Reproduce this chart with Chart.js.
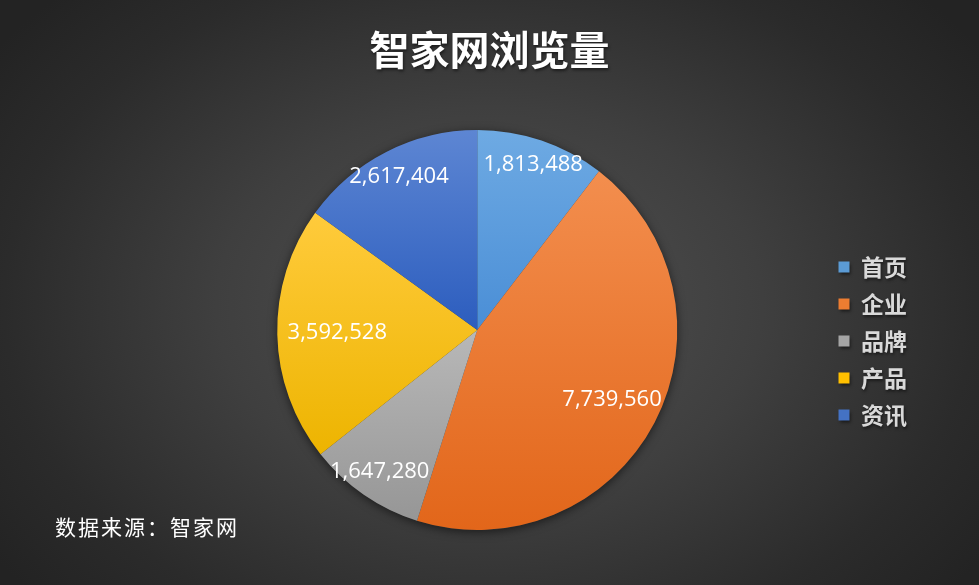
<!DOCTYPE html>
<html>
<head>
<meta charset="utf-8">
<script src="https://cdn.jsdelivr.net/npm/chart.js@4"></script>
<style>
  html, body { margin: 0; padding: 0; background: #262626; }
  #contenedor {
    position: relative;
    width: 979px;
    height: 585px;
    background: radial-gradient(ellipse 62% 75% at 50% 52%, #525252 0%, #3f3f3f 45%, #2b2b2b 80%, #232323 100%);
  }
  #fuente {
    position: absolute;
    left: 55px;
    top: 511px;
    color: #ffffff;
    font: 21px "Noto Sans CJK SC";
    letter-spacing: 2px;
  }
</style>
</head>
<body>
<div id="contenedor">
  <canvas id="grafico" width="979" height="585"></canvas>
  <div id="fuente">数据来源：智家网</div>
</div>
<script>
// datos
const categorias = ["首页", "企业", "品牌", "产品", "资讯"];
const visitas = [1813488, 7739560, 1647280, 3592528, 2617404];

// colores (arriba -> abajo del degradado) y color plano para la leyenda
const coloresArriba = ["#6eaae3", "#f38e4e", "#b8b8b8", "#ffcb3c", "#5d86d3"];
const coloresAbajo = ["#4a8ed6", "#e2661a", "#969696", "#edb400", "#2c5dbe"];
const coloresLeyenda = ["#5b9bd5", "#ed7d31", "#a5a5a5", "#ffc000", "#4472c4"];
// distancia de cada etiqueta al centro (fracción del radio)
const radioEtiqueta = [0.87, 0.76, 0.86, 0.70, 0.86];

const total = visitas.reduce((a, b) => a + b, 0);

// degradado vertical para cada porción según su alto
function degradado(context) {
  const chart = context.chart;
  const area = chart.chartArea;
  const i = context.dataIndex;
  if (!area) return coloresArriba[i];
  const cx = (area.left + area.right) / 2;
  const cy = (area.top + area.bottom) / 2;
  const r = Math.min(area.width, area.height) / 2;
  let acumulado = 0;
  for (let k = 0; k < i; k++) acumulado += visitas[k];
  const a0 = -Math.PI / 2 + (acumulado / total) * Math.PI * 2;
  const a1 = a0 + (visitas[i] / total) * Math.PI * 2;
  let minY = cy, maxY = cy;
  for (let s = 0; s <= 40; s++) {
    const y = cy + Math.sin(a0 + (a1 - a0) * s / 40) * r;
    minY = Math.min(minY, y);
    maxY = Math.max(maxY, y);
  }
  const g = chart.ctx.createLinearGradient(0, minY, 0, maxY);
  g.addColorStop(0, coloresArriba[i]);
  g.addColorStop(1, coloresAbajo[i]);
  return g;
}

// el título va centrado en todo el ancho y la leyenda un poco más abajo
const ajusteLayout = {
  id: "ajusteLayout",
  afterLayout(chart) {
    const t = chart.titleBlock;
    if (t) { t.left = 0; t.right = chart.width; t.width = chart.width; }
    const l = chart.legend;
    if (l) { l.top += 11; l.bottom += 11; }
  }
};

// sombra suave en el título y detrás del pastel
const sombra = {
  id: "sombra",
  beforeDraw(chart) {
    const ctx = chart.ctx;
    ctx.save();
    ctx.shadowColor = "rgba(0,0,0,0.5)";
    ctx.shadowBlur = 3;
    ctx.shadowOffsetX = 1;
    ctx.shadowOffsetY = 2;
  },
  beforeDatasetsDraw(chart) {
    const ctx = chart.ctx;
    ctx.restore();
    const arc = chart.getDatasetMeta(0).data[0];
    if (!arc) return;
    ctx.save();
    ctx.shadowColor = "rgba(0,0,0,0.55)";
    ctx.shadowBlur = 10;
    ctx.shadowOffsetY = 2;
    ctx.fillStyle = "#3a3a3a";
    ctx.beginPath();
    ctx.arc(arc.x, arc.y, arc.outerRadius, 0, Math.PI * 2);
    ctx.fill();
    ctx.restore();
  }
};

// etiquetas con el valor dentro de cada porción
const etiquetas = {
  id: "etiquetas",
  afterDatasetsDraw(chart) {
    const ctx = chart.ctx;
    const meta = chart.getDatasetMeta(0);
    ctx.save();
    ctx.font = '22px "Open Sans"';
    ctx.fillStyle = "#ffffff";
    ctx.textAlign = "center";
    ctx.textBaseline = "middle";
    meta.data.forEach((arc, i) => {
      const medio = (arc.startAngle + arc.endAngle) / 2;
      const r = arc.outerRadius * radioEtiqueta[i];
      const x = arc.x + Math.cos(medio) * r;
      const y = arc.y + Math.sin(medio) * r;
      ctx.fillText(visitas[i].toLocaleString("en-US"), x, y);
    });
    ctx.restore();
  }
};

const chart = new Chart(document.getElementById("grafico"), {
  type: "pie",
  data: {
    labels: categorias,
    datasets: [{
      data: visitas,
      backgroundColor: degradado,
      borderWidth: 0
    }]
  },
  options: {
    responsive: false,
    animation: false,
    devicePixelRatio: 1,
    layout: { padding: { left: 130, right: 62, bottom: 55, top: 0 } },
    plugins: {
      tooltip: { enabled: false },
      title: {
        display: true,
        text: "智家网浏览量",
        color: "#ffffff",
        font: { family: "Noto Sans CJK SC", size: 40, weight: "bold", lineHeight: 1.2 },
        padding: { top: 26, bottom: 56 }
      },
      legend: {
        position: "right",
        fullSize: false,
        labels: {
          color: "#d9d9d9",
          boxWidth: 11,
          boxHeight: 11,
          padding: 14,
          font: { family: "Noto Sans CJK SC", size: 23, weight: "bold" },
          generateLabels(chart) {
            return categorias.map((c, i) => ({
              text: c,
              fillStyle: coloresLeyenda[i],
              strokeStyle: coloresLeyenda[i],
              lineWidth: 0,
              fontColor: "#d9d9d9",
              index: i,
              hidden: false
            }));
          }
        }
      }
    }
  },
  plugins: [ajusteLayout, sombra, etiquetas]
});
</script>
</body>
</html>
